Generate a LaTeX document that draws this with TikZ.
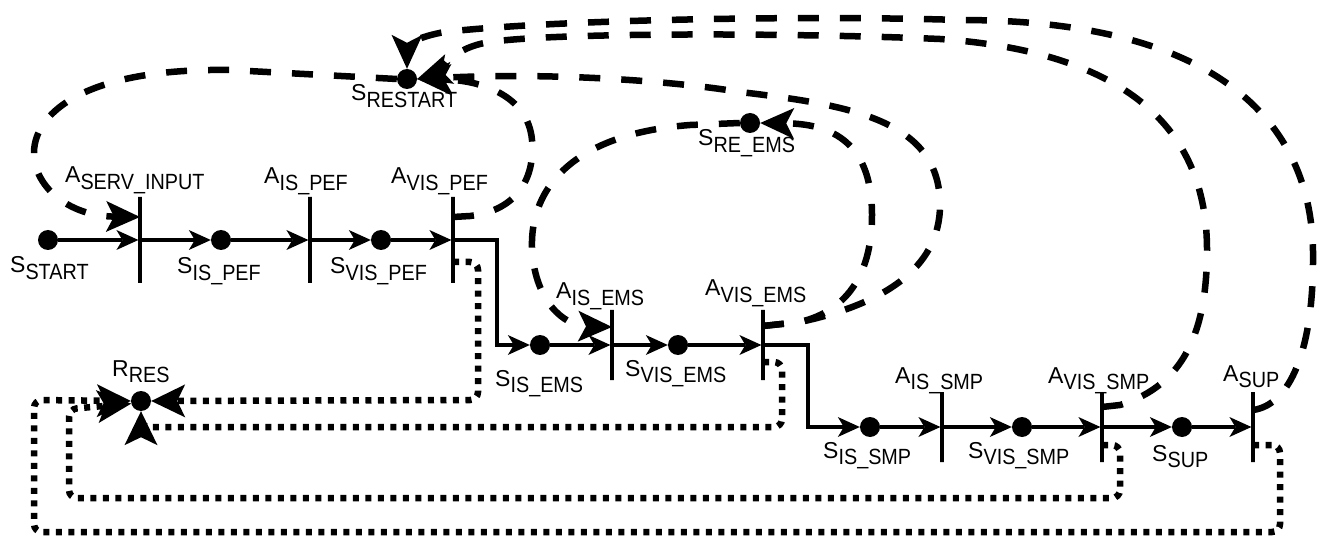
\documentclass[tikz,border=0pt]{standalone}
\usepackage{fontspec}
\setmainfont{Liberation Sans}
\newfontfamily\subf[FakeStretch=0.9]{Liberation Sans}
\usetikzlibrary{arrows.meta,calc}
\newcommand{\lab}[2]{{\fontsize{23}{26}\selectfont #1}\raisebox{-6.5pt}{\fontsize{22}{24}\subf #2}}
\begin{document}
\begin{tikzpicture}[x=1pt,y=-1pt,
  flow/.style={line width=3.2pt, -{Stealth[length=22pt,width=20pt,inset=6pt,line width=0pt]}},
  dashln/.style={line width=6.5pt, dash pattern=on 21pt off 21pt, -{Stealth[length=34pt,width=31pt,inset=8pt,line width=0pt]}},
  dotln/.style={line width=6.5pt, dash pattern=on 6pt off 6.5pt, rounded corners=8pt, -{Stealth[length=34pt,width=33pt,inset=8pt,line width=0pt]}},
  abar/.style={draw, line width=3.2pt, inner sep=0pt, minimum width=0pt, minimum height=86pt},
  abarS/.style={abar, minimum height=70pt},
  sdot/.style={circle, fill, inner sep=0pt, minimum size=20pt},
  lbl/.style={anchor=base west, inner sep=0pt}]
\useasboundingbox (0,0) rectangle (1317,537);
% states and actions
\node[sdot] (sstart) at (48,240) {};
\node[abar] (aservinput) at (140,240) {};
\node[sdot] (sispef) at (221,240) {};
\node[abar] (aispef) at (310,240) {};
\node[sdot] (svispef) at (381,240) {};
\node[abar] (avispef) at (453,240) {};
\node[sdot] (sisems) at (540,345) {};
\node[abarS] (aisems) at (612,345) {};
\node[sdot] (svisems) at (678,345) {};
\node[abarS] (avisems) at (763,345) {};
\node[sdot] (sissmp) at (870,427) {};
\node[abarS] (aissmp) at (942,427) {};
\node[sdot] (svissmp) at (1022,427) {};
\node[abarS] (avissmp) at (1102,427) {};
\node[sdot] (ssup) at (1182,427) {};
\node[abarS] (asup) at (1253,427) {};
\node[sdot] (srestart) at (407,79) {};
\node[sdot] (sreems) at (750,123) {};
\node[sdot] (rres) at (141,401) {};
% labels
\node[lbl] (lsstart) at (10,273) {\lab{S}{START}};
\node[lbl] (laservinput) at (65,183) {\lab{A}{SERV\_INPUT}};
\node[lbl] (lsispef) at (177,274) {\lab{S}{IS\_PEF}};
\node[lbl] (laispef) at (264,184) {\lab{A}{IS\_PEF}};
\node[lbl] (lsvispef) at (330,274) {\lab{S}{VIS\_PEF}};
\node[lbl] (lavispef) at (391,184) {\lab{A}{VIS\_PEF}};
\node[lbl] (lsrestart) at (351,101) {\lab{S}{RESTART}};
\node[lbl] (lsreems) at (698,146) {\lab{S}{RE\_EMS}};
\node[lbl] (laisems) at (556,299) {\lab{A}{IS\_EMS}};
\node[lbl] (lsisems) at (495,386) {\lab{S}{IS\_EMS}};
\node[lbl] (lsvisems) at (625,376) {\lab{S}{VIS\_EMS}};
\node[lbl] (lavisems) at (705,296) {\lab{A}{VIS\_EMS}};
\node[lbl] (lsissmp) at (823,458) {\lab{S}{IS\_SMP}};
\node[lbl] (laissmp) at (895,383) {\lab{A}{IS\_SMP}};
\node[lbl] (lsvissmp) at (968,458) {\lab{S}{VIS\_SMP}};
\node[lbl] (lavissmp) at (1048,383) {\lab{A}{VIS\_SMP}};
\node[lbl] (lssup) at (1152,461) {\lab{S}{SUP}};
\node[lbl] (lasup) at (1223,381) {\lab{A}{SUP}};
\node[lbl] (lrres) at (112,376) {\lab{R}{RES}};
% main flow
\draw[flow] (sstart) -- (aservinput);
\draw[flow] (aservinput) -- (sispef);
\draw[flow] (sispef) -- (aispef);
\draw[flow] (aispef) -- (svispef);
\draw[flow] (svispef) -- (avispef);
\draw[flow] (avispef.center) -- ++(44,0) |- (sisems);
\draw[flow] (sisems) -- (aisems);
\draw[flow] (aisems) -- (svisems);
\draw[flow] (svisems) -- (avisems);
\draw[flow] (avisems.center) -- ++(45,0) |- (sissmp);
\draw[flow] (sissmp) -- (aissmp);
\draw[flow] (aissmp) -- (svissmp);
\draw[flow] (svissmp) -- (avissmp);
\draw[flow] (avissmp) -- (ssup);
\draw[flow] (ssup) -- (asup);
% dashed loops
\draw[dashln] (srestart.west) -- (230,70) .. controls (-30,66) and (10,215) .. ($(aservinput.center)+(0,-23)$);
\draw[dashln] ($(avispef.center)+(0,-23)$) -- (470,216) .. controls (520,210) and (535,175) .. (532,140) .. controls (528,95) and (480,80) .. (srestart.east);
\draw[dashln] ($(avisems.center)+(0,-19)$) -- (800,322) .. controls (880,305) and (940,270) .. (940,205) .. controls (940,120) and (850,105) .. (740,92) .. controls (680,82) and (560,72) .. (srestart.east);
\draw[dashln] ($(avisems.center)+(0,-19)$) -- (800,322) .. controls (850,310) and (872,270) .. (872,215) .. controls (872,150) and (840,124) .. (sreems.east);
\draw[dashln] (sreems.west) -- (690,125) .. controls (560,135) and (525,200) .. (533,260) .. controls (540,310) and (570,326) .. ($(aisems.center)+(0,-18)$);
\draw[dashln] ($(avissmp.center)+(0,-20)$) -- (1120,405) .. controls (1185,385) and (1207,330) .. (1207,250) .. controls (1207,110) and (1100,50) .. (940,39) .. controls (800,33) and (560,32) .. (490,42) .. controls (450,48) and (440,72) .. (srestart.east);
\draw[dashln] ($(asup.center)+(0,-17)$) .. controls (1290,405) and (1313,350) .. (1313,260) .. controls (1315,140) and (1240,20) .. (960,20) .. controls (800,15) and (550,20) .. (445,32) .. controls (420,36) and (407,45) .. (srestart.north);
% dotted returns
\draw[dotln] ($(avispef.center)+(0,22)$) -- (478,262) -- (478,400) -- (rres.east);
\draw[dotln] ($(avisems.center)+(0,17)$) -- (782,362) -- (782,427) -- (141,427) -- (rres.south);
\draw[dotln] ($(avissmp.center)+(0,18)$) -- (1120,445) -- (1120,498) -- (69,498) -- (69,409) -- (rres.195);
\draw[dotln] ($(asup.center)+(0,18)$) -- (1280,445) -- (1280,532) -- (34,532) -- (34,400) -- (rres.west);
\end{tikzpicture}
\end{document}
